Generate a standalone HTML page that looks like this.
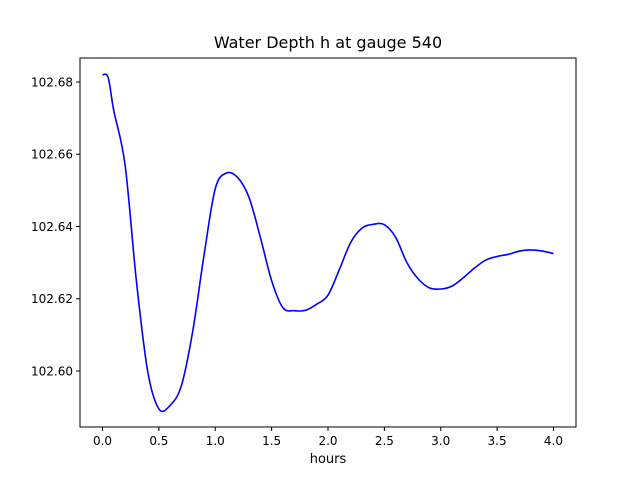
<!DOCTYPE html>
<html><head><meta charset="utf-8"><style>
body{margin:0;background:#fff;font-family:"DejaVu Sans","Liberation Sans",sans-serif;}
</style></head><body>
<svg id="chart" width="640" height="480" xmlns="http://www.w3.org/2000/svg" font-family="DejaVu Sans, Liberation Sans, sans-serif">
<rect width="640" height="480" fill="#fff"/>
<text x="328" y="48" font-size="16" text-anchor="middle">Water Depth h at gauge 540</text>
<g id="plot"></g>
<rect x="80" y="58" width="496" height="369" fill="none" stroke="#000" stroke-width="1"/>
<text x="328" y="463" font-size="13" text-anchor="middle">hours</text>
</svg>
<script>
const hours=[0,0.05,0.1,0.2,0.3,0.4,0.5,0.6,0.7,0.8,0.9,1.0,1.1,1.2,1.3,1.4,1.5,1.6,1.7,1.8,1.9,2.0,2.1,2.2,2.3,2.4,2.5,2.6,2.7,2.8,2.9,3.0,3.1,3.2,3.3,3.4,3.5,3.6,3.7,3.8,3.9,4.0];
const depth=[102.682,102.6812,102.672,102.657,102.625,102.600,102.5895,102.5905,102.596,102.611,102.632,102.6505,102.6548,102.6535,102.648,102.637,102.625,102.6175,102.6167,102.6168,102.6185,102.621,102.628,102.6355,102.6395,102.6406,102.6405,102.637,102.630,102.6255,102.623,102.6227,102.6235,102.6258,102.6285,102.6307,102.6317,102.6323,102.6332,102.6335,102.6332,102.6325];
const xTicks=[0,0.5,1,1.5,2,2.5,3,3.5,4];
const xTickLabels=["0.0","0.5","1.0","1.5","2.0","2.5","3.0","3.5","4.0"];
const yTicks=[102.60,102.62,102.64,102.66,102.68];
const yTickLabels=["102.60","102.62","102.64","102.66","102.68"];
const L=80,R=576,T=58,B=427,xmin=-0.2,xmax=4.2,ymin=102.5845,ymax=102.68664;
const sx=v=>L+(v-xmin)/(xmax-xmin)*(R-L);
const sy=v=>B-(v-ymin)/(ymax-ymin)*(B-T);
const g=document.getElementById('plot');const NS="http://www.w3.org/2000/svg";
function mk(t,a){const e=document.createElementNS(NS,t);for(const k in a)e.setAttribute(k,a[k]);g.appendChild(e);return e;}
xTicks.forEach((v,i)=>{const l=mk('line',{x1:sx(v),x2:sx(v),y1:B,y2:B+4,stroke:'#000'});


const t=mk('text',{x:sx(v),y:B+18,'font-size':12,'text-anchor':'middle'});t.textContent=xTickLabels[i];

});
yTicks.forEach((v,i)=>{const l=mk('line',{x1:L-4,x2:L,y1:sy(v),y2:sy(v),stroke:'#000'});


const t=mk('text',{x:L-7,y:sy(v)+4.5,'font-size':12,'text-anchor':'end'});t.textContent=yTickLabels[i];

});
const P=hours.map((h,i)=>[sx(h),sy(depth[i])]);
let d=`M${P[0][0]},${P[0][1]}`;
for(let i=0;i<P.length-1;i++){const p0=P[Math.max(0,i-1)],p1=P[i],p2=P[i+1],p3=P[Math.min(P.length-1,i+2)];
d+=` C${p1[0]+(p2[0]-p0[0])/6},${p1[1]+(p2[1]-p0[1])/6} ${p2[0]-(p3[0]-p1[0])/6},${p2[1]-(p3[1]-p1[1])/6} ${p2[0]},${p2[1]}`;}
const line=mk('path',{d:d,fill:'none',stroke:'#0000ff','stroke-width':1.6});


</script>
</body></html>
